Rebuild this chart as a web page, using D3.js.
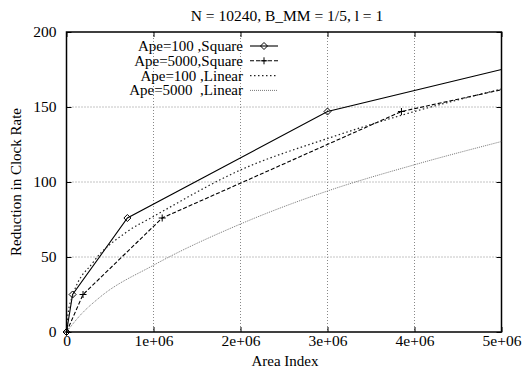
<!DOCTYPE html>
<html>
<head>
<style>
  body { margin: 0; background: #fff; }
  svg text { font-family: "Liberation Serif", "Times New Roman", serif; fill: #000; }
  .grid line { stroke: #888; stroke-dasharray: 1,2; stroke-width: 1; }
</style>
</head>
<body>
<div id="chart"></div>
<script src="https://d3js.org/d3.v7.min.js"></script>
<script>
// values
var xTicks = [0, 1e6, 2e6, 3e6, 4e6, 5e6];
var yTicks = [0, 50, 100, 150, 200];

var ape100SquareX = [0, 70000, 700000, 3000000, 5000000];
var ape100SquareY = [0, 25, 76, 147, 175];

var ape5000SquareX = [0, 190000, 1100000, 3850000, 5000000];
var ape5000SquareY = [0, 25, 76, 147, 161.5];

var ape100LinearX = [0, 20000, 70000, 300000, 700000, 1000000, 2000000, 3000000, 4000000, 5000000];
var ape100LinearY = [0, 13, 24, 46, 67, 77, 108, 129, 147, 162];

var ape5000LinearX = [0, 155000, 380000, 1000000, 2000000, 3000000, 4000000, 5000000];
var ape5000LinearY = [0, 11, 23, 44.5, 72, 94, 111.5, 127];

var seriesNames = ["Ape=100 ,Square", "Ape=5000,Square", "Ape=100 ,Linear", "Ape=5000  ,Linear"];

var W = 525, H = 370;
var margin = {top: 32, right: 23.5, bottom: 38, left: 66.5};
var width = W - margin.left - margin.right, height = H - margin.top - margin.bottom;

var svg = d3.select("#chart").append("svg")
    .attr("width", W)
    .attr("height", H);

var g = svg.append("g")
    .attr("transform", "translate(" + margin.left + "," + margin.top + ")");

var x = d3.scaleLinear().domain([0, 5e6]).range([0, width]);
var y = d3.scaleLinear().domain([0, 200]).range([height, 0]);

// grid
var grid = g.append("g").attr("class", "grid");
grid.selectAll(".gx").data(xTicks.slice(1, -1)).enter().append("line")
    .attr("x1", function(d){ return x(d); }).attr("x2", function(d){ return x(d); })
    .attr("y1", 0).attr("y2", height);
grid.selectAll(".gy").data(yTicks.slice(1, -1)).enter().append("line")
    .attr("y1", function(d){ return y(d); }).attr("y2", function(d){ return y(d); })
    .attr("x1", 0).attr("x2", width);

// axes: ticks inside, mirrored
var fmt = function(d){ return d === 0 ? "0" : (d / 1e6) + "e+06"; };
var xAxis = g.append("g").attr("transform", "translate(0," + height + ")")
    .call(d3.axisBottom(x).tickValues(xTicks).tickSize(-5).tickPadding(3).tickFormat(fmt));
var xTop = g.append("g")
    .call(d3.axisTop(x).tickValues(xTicks).tickSize(-5).tickFormat(""));
var yAxis = g.append("g")
    .call(d3.axisLeft(y).tickValues(yTicks).tickSize(-5).tickPadding(10));
var yRight = g.append("g").attr("transform", "translate(" + width + ",0)")
    .call(d3.axisRight(y).tickValues(yTicks).tickSize(-5).tickFormat(""));
[xAxis, xTop, yAxis, yRight].forEach(function(a){
  a.selectAll(".domain").remove();
  a.selectAll(".tick line").attr("stroke", "#000");
  a.selectAll("text").style("font-size", "15.5px");
});

g.append("rect")
    .attr("width", width).attr("height", height)
    .attr("fill", "none").attr("stroke", "#000").attr("stroke-width", 1.5);

// clip
svg.append("defs").append("clipPath").attr("id", "clip")
  .append("rect").attr("width", width).attr("height", height);

var series = [
  {xs: ape100SquareX, ys: ape100SquareY, dash: null, color: "#000", w: 1.1, curve: d3.curveLinear, mark: "diamond"},
  {xs: ape5000SquareX, ys: ape5000SquareY, dash: "4,2", color: "#000", w: 1.1, curve: d3.curveLinear, mark: "plus"},
  {xs: ape100LinearX, ys: ape100LinearY, dash: "1.5,2.5", color: "#222", w: 1.2, curve: d3.curveMonotoneX, mark: null},
  {xs: ape5000LinearX, ys: ape5000LinearY, dash: "1,1", color: "#777", w: 1, curve: d3.curveMonotoneX, mark: null}
];

var lines = g.append("g").attr("clip-path", "url(#clip)");
series.forEach(function(s){
  var pts = s.xs.map(function(v, i){ return [v, s.ys[i]]; });
  var line = d3.line().x(function(d){ return x(d[0]); }).y(function(d){ return y(d[1]); }).curve(s.curve);
  lines.append("path").datum(pts)
      .attr("fill", "none").attr("stroke", s.color).attr("stroke-width", s.w)
      .attr("stroke-dasharray", s.dash)
      .attr("d", line);
});

function drawMark(sel, type, cx, cy) {
  if (type === "diamond") {
    sel.append("path")
      .attr("d", "M" + cx + "," + (cy - 3.5) + "L" + (cx + 3.5) + "," + cy + "L" + cx + "," + (cy + 3.5) + "L" + (cx - 3.5) + "," + cy + "Z")
      .attr("fill", "none").attr("stroke", "#000").attr("stroke-width", 1);
  } else if (type === "plus") {
    sel.append("path")
      .attr("d", "M" + (cx - 3.5) + "," + cy + "H" + (cx + 3.5) + "M" + cx + "," + (cy - 3.5) + "V" + (cy + 3.5))
      .attr("stroke", "#000").attr("stroke-width", 1);
  }
}

var marks = g.append("g");
series.forEach(function(s){
  if (!s.mark) return;
  s.xs.forEach(function(v, i){
    if (v >= 5e6) return;
    drawMark(marks, s.mark, x(v), y(s.ys[i]));
  });
});

// legend
var leg = svg.append("g");
seriesNames.forEach(function(name, i){
  var ly = 46 + i * 14.8;
  leg.append("text")
      .attr("x", 243).attr("y", ly + 5)
      .attr("text-anchor", "end")
      .style("font-size", "15px")
      .style("white-space", "pre")
      .attr("xml:space", "preserve")
      .text(name);
  var s = series[i];
  leg.append("line")
      .attr("x1", 250).attr("x2", 278).attr("y1", ly).attr("y2", ly)
      .attr("stroke", s.color).attr("stroke-width", s.w)
      .attr("stroke-dasharray", s.dash);
  if (s.mark) drawMark(leg, s.mark, 264, ly);
});

// titles
svg.append("text")
    .attr("x", 287).attr("y", 21)
    .attr("text-anchor", "middle")
    .style("font-size", "15.5px")
    .text("N = 10240, B_MM = 1/5, l = 1");

svg.append("text")
    .attr("x", 285).attr("y", 366)
    .attr("text-anchor", "middle")
    .style("font-size", "15px")
    .text("Area Index");

svg.append("text")
    .attr("transform", "translate(21," + (margin.top + height / 2) + ") rotate(-90)")
    .attr("text-anchor", "middle")
    .style("font-size", "15px")
    .text("Reduction in Clock Rate");
</script>
</body>
</html>
